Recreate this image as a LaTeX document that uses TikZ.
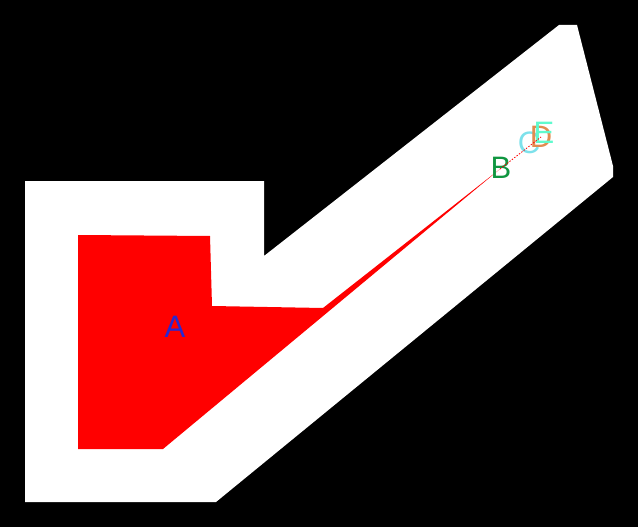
\documentclass[tikz,border=0pt]{standalone}
\usepackage{fontspec}
\setmainfont{Liberation Sans}
\usepackage{tikz}
\usetikzlibrary{calc}
\usepackage{xcolor}
\definecolor{areared}{RGB}{255,0,0}
\definecolor{labA}{RGB}{40,40,210}
\definecolor{labB}{RGB}{16,150,64}
\definecolor{labC}{RGB}{125,225,235}
\definecolor{labD}{RGB}{225,140,80}
\definecolor{labE}{RGB}{95,250,205}

\tikzset{lbl/.style={inner sep=0pt, font=\fontsize{31}{31}\selectfont}}

\begin{document}
\begin{tikzpicture}[x=1pt, y=-1pt]
\fill[black] (0,0) rectangle (638,527);
\useasboundingbox (0,0) rectangle (638,527);
% corridor
\fill[white] (25,181) -- (264,181) -- (264,256) -- (559,25) -- (577,25)
  -- (613,166) -- (613,177) -- (216,502) -- (25,502) -- cycle;
% region
\coordinate (tip) at (500,169);
\fill[areared] (78,235) -- (210,236) -- (212,306) -- (323,308) -- (tip)
  -- (163,449) -- (78,449) -- cycle;
\node[lbl, text=labA] (A) at (175,327) {A};
\node[lbl, text=labB] (B) at (501,168) {B};
\node[lbl, text=labC] (C) at (529,143) {C};
\node[lbl, text=labD] (D) at (541,137) {D};
\node[lbl, text=labE] (E) at (544,133) {E};
\draw[areared, line width=0.8pt, dash pattern=on 1.5pt off 1.5pt] (tip) -- (D.center);
\end{tikzpicture}
\end{document}
